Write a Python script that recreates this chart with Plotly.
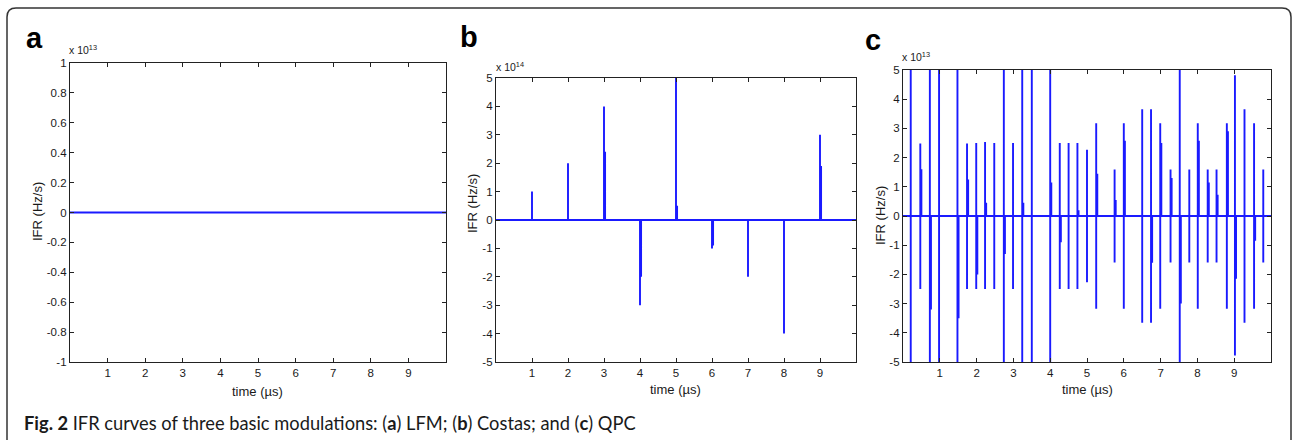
import plotly.graph_objects as go

# ---------------- data ----------------
x_ticks = [1, 2, 3, 4, 5, 6, 7, 8, 9]
a_ticks = [-1, -0.8, -0.6, -0.4, -0.2, 0, 0.2, 0.4, 0.6, 0.8, 1]
a_ticklabels = ["-1", "-0.8", "-0.6", "-0.4", "-0.2", "0", "0.2", "0.4", "0.6", "0.8", "1"]
bc_ticks = [-5, -4, -3, -2, -1, 0, 1, 2, 3, 4, 5]
bc_ticklabels = ["-5", "-4", "-3", "-2", "-1", "0", "1", "2", "3", "4", "5"]

# (a) LFM: constant IFR
a_time = [0, 10]
a_ifr = [0, 0]

# (b) Costas: spikes at hop instants (units of 1e14 Hz/s)
b_time = [1, 2, 3, 4, 5, 6, 7, 8, 9]
b_peak = [1, 2, 4, -3, 5, -1, -2, -4, 3]
b_sub = [0, 0, 2.4, -2.0, 0.5, -0.9, 0, 0, 1.9]

# (c) QPC: bipolar spikes at phase transitions (units of 1e13 Hz/s)
c_time = [0.21, 0.47, 0.73, 0.98, 1.48, 1.74, 1.99, 2.23, 2.48, 2.74, 2.99, 3.24,
          3.50, 4.00, 4.26, 4.50, 4.74, 5.00, 5.25, 5.75, 6.00, 6.50, 6.74, 6.99,
          7.27, 7.52, 7.78, 8.01, 8.28, 8.52, 8.80, 9.02, 9.28, 9.54, 9.79]
c_top = [5, 2.48, 5, 5, 5, 2.48, 2.5, 2.53, 2.5, 5, 2.5, 5,
         5, 5, 2.5, 2.5, 2.5, 2.27, 3.18, 1.59, 3.18, 3.66, 3.66, 3.18,
         1.59, 5, 1.59, 3.18, 1.59, 1.59, 3.18, 4.82, 3.66, 3.18, 1.59]
c_bot = [-5, -2.5, -5, -5, -5, -2.5, -2.5, -2.5, -2.5, -5, -2.5, -5,
         -5, -5, -2.5, -2.5, -2.5, -2.27, -3.18, -1.59, -3.18, -3.66, -3.66, -3.18,
         -1.59, -5, -1.59, -3.18, -1.59, -1.59, -3.18, -4.78, -3.66, -3.18, -1.59]
c_sub = [0, 1.6, -3.2, 0, -3.5, 1.25, -2.0, 0.45, 0, -1.3, 0, 0.45,
         0, 1.15, -0.9, 0, 0.2, 0, 1.45, 0.55, 2.58, 0, -1.6, 2.5,
         1.3, -3.0, 0, 2.58, 1.15, 0.73, 2.9, -2.15, 0, -0.85, 0]

SAMPLE_DT = 0.03
BLUE = "#1a1aff"
AX = "#222222"
W, H = 1293, 440


def px(v):
    return v / W


def py(v):
    return 1 - v / H


def spike_path(times, highs, lows, subs):
    xs, ys = [0], [0]
    for t, hi, lo, s in zip(times, highs, lows, subs):
        xs += [t, t, t, t]
        ys += [0, hi, lo, 0]
        if s:
            ts = t + SAMPLE_DT
            xs += [ts, ts, ts]
            ys += [0, s, 0]
    xs.append(10)
    ys.append(0)
    return xs, ys


fig = go.Figure()

# panel a
fig.add_trace(go.Scatter(x=a_time, y=a_ifr, mode="lines",
                         line=dict(color=BLUE, width=2), xaxis="x", yaxis="y",
                         showlegend=False))
# panel b
bx, by = spike_path(b_time, b_peak, [0] * len(b_time), b_sub)
fig.add_trace(go.Scatter(x=bx, y=by, mode="lines",
                         line=dict(color=BLUE, width=1.9), xaxis="x2", yaxis="y2",
                         showlegend=False))
# panel c
cx, cy = spike_path(c_time, c_top, c_bot, c_sub)
fig.add_trace(go.Scatter(x=cx, y=cy, mode="lines",
                         line=dict(color=BLUE, width=1.9), xaxis="x3", yaxis="y3",
                         showlegend=False))

tickfont = dict(family="Liberation Sans, Arial, sans-serif", size=11.5, color="#1a1a1a")

panels = [
    # x-domain px, y-domain px, yrange, yticks, ylabels
    ((70, 446), (63, 362), [-1, 1], a_ticks, a_ticklabels),
    ((496, 856), (78, 362), [-5, 5], bc_ticks, bc_ticklabels),
    ((903, 1271), (70, 362), [-5, 5], bc_ticks, bc_ticklabels),
]

layout = dict(
    width=W, height=H, autosize=False,
    margin=dict(l=0, r=0, t=0, b=0, pad=0, autoexpand=False),
    paper_bgcolor="white", plot_bgcolor="white",
    showlegend=False,
)

for i, ((x0, x1), (y0, y1), yr, yt, yl) in enumerate(panels):
    sx = "" if i == 0 else str(i + 1)
    layout["xaxis" + sx] = dict(
        domain=[px(x0), px(x1)], range=[0, 10], anchor="y" + sx,
        tickmode="array", tickvals=x_ticks, ticktext=[str(v) for v in x_ticks],
        ticks="inside", ticklen=4, tickwidth=1, tickcolor=AX,
        showline=True, linecolor=AX, linewidth=1.3, mirror="ticks",
        showgrid=False, zeroline=False, tickfont=tickfont, fixedrange=True,
        automargin=False,
    )
    layout["yaxis" + sx] = dict(
        domain=[py(y1), py(y0)], range=yr, anchor="x" + sx,
        tickmode="array", tickvals=yt, ticktext=yl,
        ticks="inside", ticklen=4, tickwidth=1, tickcolor=AX,
        showline=True, linecolor=AX, linewidth=1.3, mirror="ticks",
        showgrid=False, zeroline=False, tickfont=tickfont, fixedrange=True,
        automargin=False,
    )

fig.update_layout(**layout)

ann = []
label_font = dict(family="Liberation Sans, Arial, sans-serif", size=13, color="#1a1a1a")
# y titles
for xc, yc in [(37, 212), (472, 204), (880, 216)]:
    ann.append(dict(text="IFR (Hz/s)", x=px(xc), y=py(yc), xref="paper", yref="paper",
                    textangle=-90, showarrow=False, font=label_font,
                    xanchor="center", yanchor="middle"))
# x titles
for xc, yc in [(257, 391), (675, 389), (1087, 389)]:
    ann.append(dict(text="time (µs)", x=px(xc), y=py(yc), xref="paper", yref="paper",
                    showarrow=False, font=label_font, xanchor="center", yanchor="middle"))
# exponent labels
exp_font = dict(family="Liberation Sans, Arial, sans-serif", size=10.5, color="#1a1a1a")
for xl, yb, e in [(67, 58, "13"), (494, 75, "14"), (900, 65, "13")]:
    ann.append(dict(text="x 10<sup>" + e + "</sup>", x=px(xl), y=py(yb), xref="paper",
                    yref="paper", showarrow=False, font=exp_font,
                    xanchor="left", yanchor="bottom"))
# panel letters
letter_font = dict(family="Liberation Sans, Arial, sans-serif", size=29, color="black")
for xl, yc, t in [(24, 38, "a"), (458, 37, "b"), (863, 40, "c")]:
    ann.append(dict(text="<b>" + t + "</b>", x=px(xl), y=py(yc), xref="paper", yref="paper",
                    showarrow=False, font=letter_font, xanchor="left", yanchor="middle"))
# caption
ann.append(dict(
    text="<b>Fig. 2</b> IFR curves of three basic modulations: (<b>a</b>) LFM; "
         "(<b>b</b>) Costas; and (<b>c</b>) QPC",
    x=px(22), y=py(423), xref="paper", yref="paper", showarrow=False,
    font=dict(family="Lato, Open Sans, sans-serif", size=18.3, color="#1a1a1a"),
    xanchor="left", yanchor="middle"))

fig.update_layout(annotations=ann)

# rounded frame around the figure
r_x, r_y = px(9), 9 / H
L, R, T, B = px(7), px(1291), py(8), -0.05
path = (f"M {L},{B} L {L},{T - r_y} Q {L},{T} {L + r_x},{T} "
        f"L {R - r_x},{T} Q {R},{T} {R},{T - r_y} L {R},{B}")
fig.add_shape(type="path", path=path, xref="paper", yref="paper",
              line=dict(color="#333333", width=1.5))

fig.write_html(
    "out.html",
    config={"displayModeBar": False},
    post_script="document.body.style.margin='0';document.body.style.overflow='hidden';",
)
